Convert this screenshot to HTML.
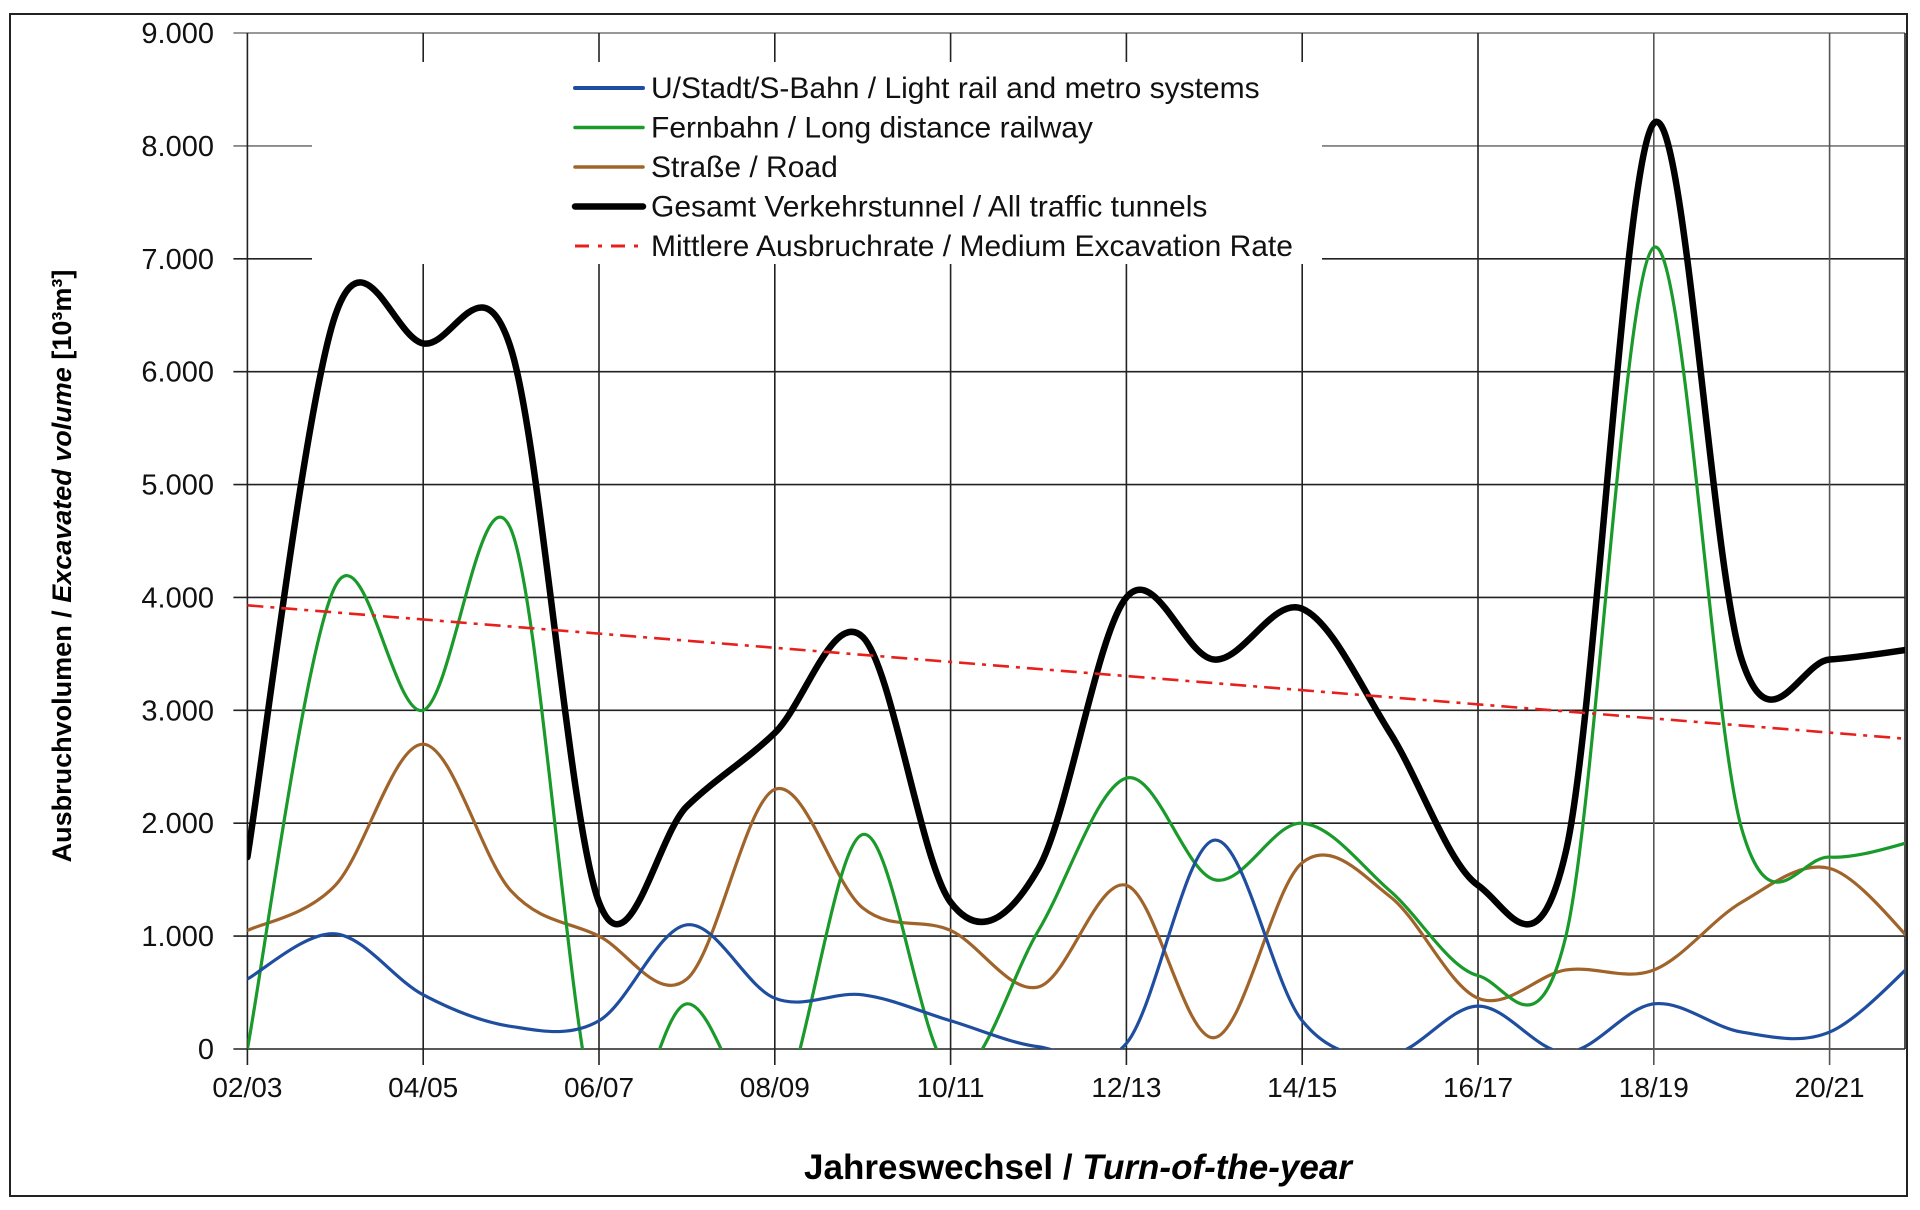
<!DOCTYPE html>
<html><head><meta charset="utf-8">
<style>
html,body{margin:0;padding:0;background:#fff;}
svg{display:block;font-family:"Liberation Sans",Arial,sans-serif;}
</style></head>
<body>
<svg id="chart" width="1920" height="1210" viewBox="0 0 1920 1210" xmlns="http://www.w3.org/2000/svg">
  <rect x="10" y="14" width="1897" height="1182" fill="#fff" stroke="#222" stroke-width="2"/>
  <g id="grid"></g>
  <g id="series"></g>
  <g id="axes"></g>
  <g id="legend"></g>
  <text x="1078" y="1179" text-anchor="middle" font-size="35" font-weight="bold">Jahreswechsel / <tspan font-style="italic">Turn-of-the-year</tspan></text>
  <text transform="translate(71,566) rotate(-90)" text-anchor="middle" font-size="27" font-weight="bold">Ausbruchvolumen / <tspan font-style="italic">Excavated volume</tspan>  [10³m³]</text>
</svg>
<script>
const categories = ["02/03","04/05","06/07","08/09","10/11","12/13","14/15","16/17","18/19","20/21"];
const yTicks = [0,1000,2000,3000,4000,5000,6000,7000,8000,9000];
const yTickLabels = ["0","1.000","2.000","3.000","4.000","5.000","6.000","7.000","8.000","9.000"];
const metroValues = [620,1020,480,200,250,1100,450,480,250,20,50,1850,250,-50,380,-30,400,150,150,800];
const railValues = [0,4100,3000,4600,-700,400,-600,1900,-200,1050,2400,1500,2000,1400,650,1000,7100,1950,1700,1850];
const roadValues = [1050,1450,2700,1400,1000,620,2300,1250,1050,550,1450,100,1650,1350,450,700,700,1300,1600,900];
const totalValues = [1700,6500,6250,6200,1300,2150,2800,3650,1300,1600,4000,3450,3900,2800,1450,1750,8200,3450,3450,3550];
const trendValues = [3930,2740];

const NS = "http://www.w3.org/2000/svg";
const X0 = 247.4, STEP = 87.9, PR = 1905, Y0 = 1049, YTOP = 33;
function xs(i){ return X0 + i*STEP; }
function ys(v){ return Y0 - (v/9000)*(Y0-YTOP); }
function mk(tag, attrs, parent){
  const e = document.createElementNS(NS, tag);
  for (const k in attrs) e.setAttribute(k, attrs[k]);
  parent.appendChild(e); return e;
}
const svg = document.getElementById('chart');
const grid = document.getElementById('grid');
const axes = document.getElementById('axes');
const series = document.getElementById('series');
const legend = document.getElementById('legend');

const defs = mk('defs', {}, svg);
const cp = mk('clipPath', {id:'plotclip'}, defs);
mk('rect', {x:X0, y:YTOP-4, width:PR-X0, height:Y0-YTOP+4}, cp);

yTicks.forEach((v,i)=>{
  const y = ys(v);
  const gl = mk('line', {x1:X0-14, x2:PR, y1:y, y2:y, stroke: (i===8||i===9)?'#777':'#222', 'stroke-width':1.6}, grid);
  
  
  const t = mk('text', {x:214, y:y+10, 'text-anchor':'end', 'font-size':29, fill:'#111'}, axes);
  t.textContent = yTickLabels[i];
  
  
});
categories.forEach((c,i)=>{
  const x = xs(i*2);
  const gl = mk('line', {x1:x, x2:x, y1:YTOP, y2:Y0+16, stroke: i>=8?'#555':'#222', 'stroke-width':1.6}, grid);
  
  
  const t = mk('text', {x:x, y:1097, 'text-anchor':'middle', 'font-size':28, fill:'#111'}, axes);
  t.textContent = c;
  
  
});
mk('line', {x1:PR, x2:PR, y1:YTOP, y2:Y0, stroke:'#222','stroke-width':1.6}, grid);

function smoothPath(vals){
  const p = vals.map((v,i)=>[xs(i), ys(v)]);
  let d = 'M'+p[0][0]+','+p[0][1];
  for (let i=0;i<p.length-1;i++){
    const a=p[Math.max(i-1,0)], b=p[i], c=p[i+1], e=p[Math.min(i+2,p.length-1)];
    const t=1/6;
    const c1=[b[0]+(c[0]-a[0])*t, b[1]+(c[1]-a[1])*t];
    const c2=[c[0]-(e[0]-b[0])*t, c[1]-(e[1]-b[1])*t];
    d += ' C'+c1[0]+','+c1[1]+' '+c2[0]+','+c2[1]+' '+c[0]+','+c[1];
  }
  return d;
}
const defsSeries = [
  {vals:roadValues, color:'#a0642a', w:3.2, name:'road-line'},
  {vals:railValues, color:'#1a9a2a', w:3.2, name:'long-distance-railway-line'},
  {vals:metroValues, color:'#1f4ea0', w:3.2, name:'metro-line'},
  {vals:totalValues, color:'#000', w:6.5, name:'total-tunnels-line'}
];
const sg = mk('g', {'clip-path':'url(#plotclip)'}, series);
defsSeries.forEach(s=>{
  const p = mk('path', {d:smoothPath(s.vals), fill:'none', stroke:s.color, 'stroke-width':s.w, 'stroke-linejoin':'round','stroke-linecap':'round'}, sg);
  
  
});
const tr = mk('line', {x1:xs(0), y1:ys(trendValues[0]), x2:xs(19), y2:ys(trendValues[1]), stroke:'#e8201c','stroke-width':2.6,'stroke-dasharray':'16 7 4 7'}, sg);



mk('rect', {x:312, y:62, width:1010, height:202, fill:'#fff'}, legend);
const items = [
  ['U/Stadt/S-Bahn / Light rail and metro systems','#1f4ea0',4,null,'legend-metro'],
  ['Fernbahn / Long distance railway','#1a9a2a',3.5,null,'legend-railway'],
  ['Straße / Road','#a0642a',3.5,null,'legend-road'],
  ['Gesamt Verkehrstunnel / All traffic tunnels','#000',6.5,null,'legend-total'],
  ['Mittlere Ausbruchrate / Medium Excavation Rate','#e8201c',3,'14 9 4 9','legend-trend']
];
items.forEach((it,i)=>{
  const y = 88 + i*39.5;
  const g = mk('g', {}, legend);
  
  
  const a = {x1:575, x2:643, y1:y, y2:y, stroke:it[1], 'stroke-width':it[2], 'stroke-linecap':'round'};
  if (it[3]) { a['stroke-dasharray']=it[3]; a['stroke-linecap']='butt'; }
  mk('line', a, g);
  const t = mk('text', {x:651, y:y+10, 'font-size':30, fill:'#111'}, g);
  t.textContent = it[0];
});
</script>
</body></html>
